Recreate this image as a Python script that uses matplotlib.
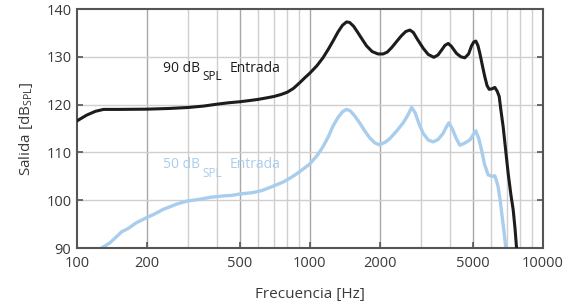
import matplotlib
matplotlib.use('Agg')
import matplotlib.pyplot as plt

plt.rcParams['font.family'] = ['Open Sans', 'DejaVu Sans']
plt.rcParams['mathtext.fontset'] = 'custom'
plt.rcParams['mathtext.rm'] = 'Open Sans'

# 90 dB SPL input curve
freq_90 = [100, 110, 120, 130, 150, 200, 250, 300, 350, 400, 450, 500, 550, 600,
           650, 700, 750, 800, 850, 905, 950, 1000, 1070, 1138, 1200, 1260, 1320,
           1380, 1436, 1480, 1540, 1600, 1680, 1750, 1850, 1960, 2063, 2150, 2250,
           2356, 2470, 2580, 2688, 2780, 2900, 3064, 3220, 3406, 3550, 3675, 3800,
           3924, 4050, 4262, 4450, 4625, 4800, 4943, 5050, 5157, 5270, 5368, 5500,
           5637, 5760, 5884, 6050, 6222, 6370, 6497, 6600, 6755, 7099, 7300, 7460,
           7600, 7712]
out_90 = [116.6, 117.8, 118.6, 119.0, 119.0, 119.05, 119.2, 119.4, 119.7, 120.1,
          120.4, 120.6, 120.85, 121.1, 121.4, 121.7, 122.1, 122.6, 123.4, 124.6,
          125.6, 126.6, 128.1, 129.8, 131.6, 133.4, 135.2, 136.6, 137.3, 137.2,
          136.4, 135.2, 133.6, 132.3, 131.1, 130.6, 130.6, 131.0, 132.0, 133.2,
          134.4, 135.3, 135.6, 135.1, 133.6, 131.8, 130.5, 129.9, 130.4, 131.4,
          132.4, 132.8, 132.2, 130.7, 130.0, 129.8, 130.6, 132.3, 133.1, 133.3,
          132.3, 130.7, 128.2, 125.8, 124.0, 123.2, 123.3, 123.6, 122.8, 121.7,
          119.0, 115.4, 105.6, 101.0, 98.0, 94.0, 90.0]

# 50 dB SPL input curve
freq_50 = [127.6, 138.6, 148, 155.5, 166, 180, 200, 215, 234.6, 250, 268, 295.6,
           337, 372, 424.5, 460, 500, 571, 620, 652, 700, 768, 820, 870, 905, 1000,
           1080, 1138, 1200, 1259, 1320, 1380, 1436, 1490, 1560, 1639, 1720, 1809,
           1900, 1984, 2100, 2204, 2350, 2515, 2620, 2733, 2830, 2950, 3064, 3220,
           3382, 3550, 3734, 3850, 3952, 4080, 4250, 4403, 4600, 4862, 5020, 5157,
           5300, 5457, 5620, 5823, 6050, 6222, 6330, 6430, 6580, 6714, 6830, 6937]
out_50 = [90.0, 91.1, 92.4, 93.4, 94.1, 95.3, 96.4, 97.1, 98.1, 98.6, 99.2, 99.8,
          100.2, 100.6, 100.9, 101.0, 101.3, 101.6, 102.0, 102.4, 103.0, 103.8,
          104.6, 105.4, 106.0, 107.6, 109.5, 111.2, 113.3, 115.6, 117.3, 118.5,
          119.0, 118.7, 117.6, 116.1, 114.5, 113.0, 112.0, 111.6, 112.1, 112.9,
          114.4, 116.2, 117.6, 119.4, 118.3, 115.8, 114.0, 112.6, 112.2, 112.7,
          114.0, 115.3, 116.2, 115.0, 112.9, 111.5, 111.9, 112.6, 113.7, 114.5,
          113.0, 110.5, 107.5, 105.3, 105.0, 105.1, 104.0, 102.8, 99.5, 95.9, 93.0,
          90.0]

xticks = [100, 200, 500, 1000, 2000, 5000, 10000]
yticks = [90, 100, 110, 120, 130, 140]
minor_grid = [300, 400, 600, 700, 800, 900, 3000, 4000, 6000, 7000, 8000, 9000]

text_col = '#3a3a3a'
blue = '#a9cdec'
black = '#1c1c1c'

fig = plt.figure(figsize=(5.72, 3.06), dpi=100)
ax = fig.add_axes([0.1346, 0.1895, 0.8144, 0.781])

for f in minor_grid:
    ax.axvline(f, color='#cfcfcf', lw=1.0, zorder=0)
for f in xticks[1:-1]:
    ax.axvline(f, color='#a8a8a8', lw=1.0, zorder=0)
for v in yticks[1:-1]:
    ax.axhline(v, color='#cfcfcf', lw=1.0, zorder=0)

ax.plot(freq_50, out_50, color=blue, lw=2.4, solid_joinstyle='round', zorder=2)
ax.plot(freq_90, out_90, color=black, lw=2.2, solid_joinstyle='round', zorder=3)

ax.set_xscale('log')
ax.set_xlim(100, 10000)
ax.set_ylim(90, 140)
ax.set_xticks(xticks)
ax.set_xticklabels([str(t) for t in xticks])
ax.xaxis.set_minor_locator(matplotlib.ticker.NullLocator())
ax.set_yticks(yticks)
ax.tick_params(axis='both', direction='in', length=4, width=1.2, color='#555555',
               labelsize=10.5, labelcolor=text_col)
ax.tick_params(axis='y', right=True, pad=4)
ax.tick_params(axis='x', pad=6)
for s in ax.spines.values():
    s.set_color('#555555')
    s.set_linewidth(1.5)

ax.set_xlabel('Frecuencia [Hz]', fontsize=11, color=text_col, labelpad=11)
ax.set_ylabel(r'Salida [dB$_{\mathregular{SPL}}$]', fontsize=11, color=text_col, labelpad=8)

# curve labels: main text, subscript and "Entrada" placed separately
ax.text(234, 126.8, '90 dB', fontsize=10, color=black, va='baseline')
ax.text(345, 125.1, 'SPL', fontsize=8.5, color=black, va='baseline')
ax.text(453, 126.8, 'Entrada', fontsize=10, color=black, va='baseline')
ax.text(234, 106.7, '50 dB', fontsize=10, color=blue, va='baseline')
ax.text(345, 104.9, 'SPL', fontsize=8.5, color=blue, va='baseline')
ax.text(453, 106.7, 'Entrada', fontsize=10, color=blue, va='baseline')

fig.savefig('out.png', dpi=100)
